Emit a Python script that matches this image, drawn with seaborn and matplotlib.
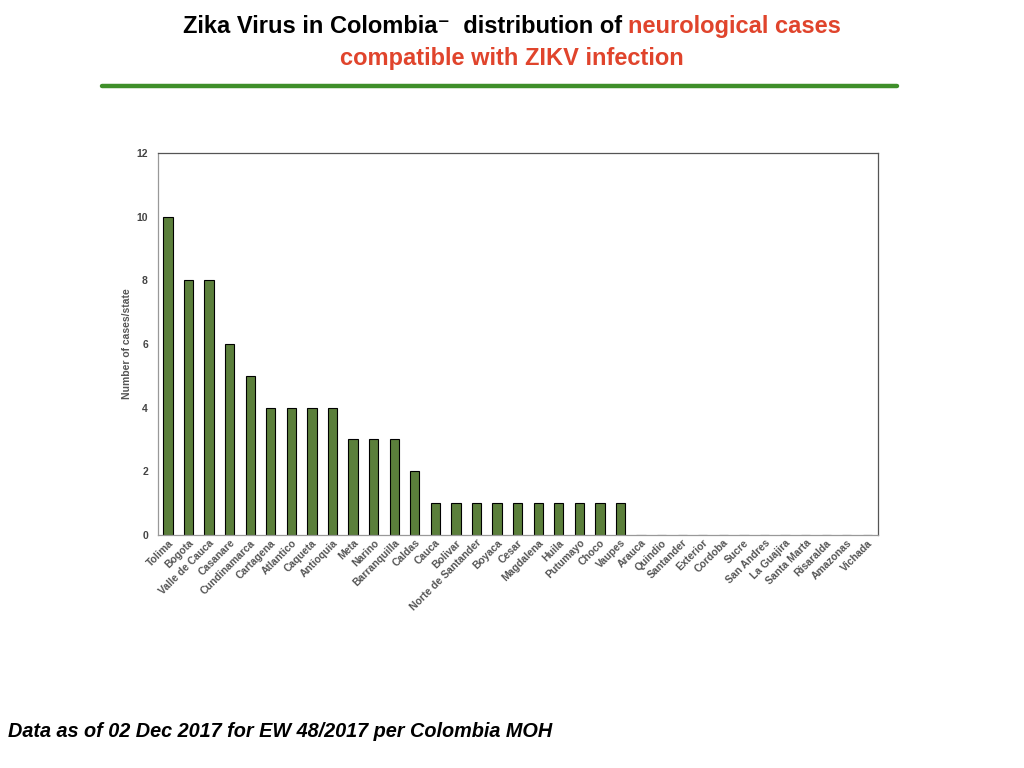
import matplotlib
matplotlib.use("Agg")
import matplotlib.pyplot as plt
import pandas as pd
import seaborn as sns

estados = ["Tolima", "Bogota", "Valle de Cauca", "Casanare", "Cundinamarca",
           "Cartagena", "Atlantico", "Caqueta", "Antioquia", "Meta", "Narino",
           "Barranquilla", "Caldas", "Cauca", "Bolivar", "Norte de Santander",
           "Boyaca", "Cesar", "Magdalena", "Huila", "Putumayo", "Choco",
           "Vaupes", "Arauca", "Quindio", "Santander", "Exterior", "Cordoba",
           "Sucre", "San Andres", "La Guajira", "Santa Marta", "Risaralda",
           "Amazonas", "Vichada"]
casos = [10, 8, 8, 6, 5, 4, 4, 4, 4, 3, 3, 3, 2, 1, 1, 1, 1, 1, 1, 1, 1, 1,
         1, 0, 0, 0, 0, 0, 0, 0, 0, 0, 0, 0, 0]

df = pd.DataFrame({"estado": estados, "casos": casos})

sns.set_theme(style="white")
plt.rcParams["font.family"] = ["Liberation Sans", "DejaVu Sans"]

fig = plt.figure(figsize=(10.24, 7.68), dpi=100)
ax = fig.add_axes([0.154, 0.3034, 0.703, 0.4974])

sns.barplot(data=df, x="estado", y="casos", color="#5b7f3b", saturation=1,
            width=0.45, edgecolor="black", linewidth=0.8, ax=ax)

ax.set_ylim(0, 12)
ax.set_yticks([0, 2, 4, 6, 8, 10, 12])
ax.set_xlim(-0.5, len(estados) - 0.5)
ax.set_xlabel("")
ax.set_ylabel("Number of cases/state", fontsize=7.5, fontweight="bold",
              color="#555555", labelpad=3)
ax.tick_params(axis="y", labelsize=7.5, labelcolor="#444444", length=0, pad=7)
ax.tick_params(axis="x", labelsize=7.5, labelcolor="#555555", length=0, pad=2)
plt.setp(ax.get_xticklabels(), rotation=45, ha="right", rotation_mode="anchor",
         fontweight="bold")
plt.setp(ax.get_yticklabels(), fontweight="bold")
for lado in ["left", "bottom"]:
    ax.spines[lado].set_color("#999999")
for lado in ["top", "right"]:
    ax.spines[lado].set_color("#555555")
for s in ax.spines.values():
    s.set_linewidth(0.9)

# titulo en dos colores, centrado a mano
fig.canvas.draw()
r = fig.canvas.get_renderer()
t1 = fig.text(0, 0.966, "Zika Virus in Colombia\u207b  distribution of ",
              ha="left", va="center", fontsize=17, fontweight="bold",
              color="black")
t2 = fig.text(0, 0.966, "neurological cases", ha="left", va="center",
              fontsize=17, fontweight="bold", color="#e0442c")
w1 = t1.get_window_extent(r).width / fig.bbox.width
w2 = t2.get_window_extent(r).width / fig.bbox.width
x0 = 0.5 - (w1 + w2) / 2
t1.set_x(x0)
t2.set_x(x0 + w1)
fig.text(0.5, 0.924, "compatible with ZIKV infection", ha="center", va="center",
         fontsize=17, fontweight="bold", color="#e0442c")

fig.add_artist(plt.Line2D([0.1, 0.876], [0.888, 0.888], color="#3f8f2a",
                          linewidth=3.2, transform=fig.transFigure))

fig.text(0.008, 0.048, "Data as of 02 Dec 2017 for EW 48/2017 per Colombia MOH",
         ha="left", va="center", fontsize=14.3, fontweight="bold",
         style="italic", color="black")

fig.savefig("out.png", dpi=100, facecolor="white")
